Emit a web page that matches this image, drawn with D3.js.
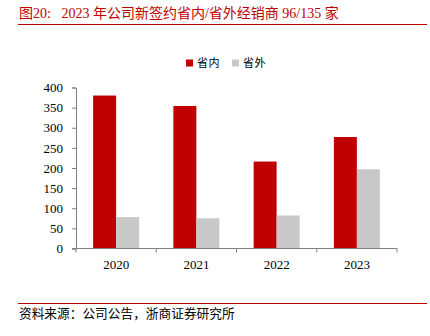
<!DOCTYPE html>
<html>
<head>
<meta charset="utf-8">
<script src="https://cdn.jsdelivr.net/npm/d3@7/dist/d3.min.js"></script>
<style>
  html, body { margin: 0; padding: 0; background: #fff; }
  svg { display: block; }
</style>
</head>
<body>
<svg id="chart" width="430" height="336"></svg>
<script>
// Newly signed distributors per year, in-province vs out-of-province
const years = ["2020", "2021", "2022", "2023"];
const inProvince = [380, 354, 216, 277];
const outProvince = [78, 75, 82, 197];
const seriesNames = ["省内", "省外"];
const yTicks = [0, 50, 100, 150, 200, 250, 300, 350, 400];

const titleText = "图20:\u00a0\u00a0\u00a02023 年公司新签约省内/省外经销商 96/135 家";
const sourceText = "资料来源：公司公告，浙商证券研究所";

const colors = ["#c00000", "#c8c8c8"];
const serif = "'Liberation Serif', 'Noto Sans CJK SC', serif";
const cjk = "'Noto Sans CJK SC', 'Liberation Serif', sans-serif";
const axisColor = "#808080";

const svg = d3.select("#chart");

// Header
svg.append("text")
  .attr("x", 19).attr("y", 18)
  .attr("fill", "#c00000")
  .style("font-family", serif)
  .style("font-size", "14px")
  .text(titleText);
svg.append("line")
  .attr("x1", 18).attr("x2", 427).attr("y1", 24.5).attr("y2", 24.5)
  .attr("stroke", "#c00000").attr("stroke-width", 1);

// Scales
const x = d3.scaleBand().domain(years).range([76, 397]).paddingInner(0).paddingOuter(0);
const y = d3.scaleLinear().domain([0, 400]).range([248.5, 87.5]);
const barW = 23;

// Bars
const groups = svg.append("g").selectAll("g")
  .data(years)
  .join("g");

groups.append("rect")
  .attr("x", d => x(d) + x.bandwidth() / 2 - barW)
  .attr("y", (d, i) => y(inProvince[i]))
  .attr("width", barW)
  .attr("height", (d, i) => y(0) - y(inProvince[i]))
  .attr("fill", colors[0]);

groups.append("rect")
  .attr("x", d => x(d) + x.bandwidth() / 2)
  .attr("y", (d, i) => y(outProvince[i]))
  .attr("width", barW)
  .attr("height", (d, i) => y(0) - y(outProvince[i]))
  .attr("fill", colors[1]);

// Y axis
const yAxis = svg.append("g")
  .attr("transform", "translate(76,0)")
  .call(d3.axisLeft(y).tickValues(yTicks).tickSize(4).tickPadding(9));
yAxis.select(".domain").attr("stroke", axisColor);
yAxis.selectAll(".tick line").attr("stroke", axisColor);
yAxis.selectAll(".tick text")
  .attr("fill", "#000")
  .style("font-family", serif)
  .style("font-size", "13px");

// X axis: category separators with labels centred
const xAxis = svg.append("g").attr("transform", `translate(0,${y(0)})`);
xAxis.append("line")
  .attr("x1", 72).attr("x2", 397)
  .attr("stroke", axisColor);
const sepPositions = years.map(d => x(d)).concat([x.range()[1]]);
xAxis.selectAll(".sep")
  .data(sepPositions)
  .join("line")
  .attr("class", "sep")
  .attr("x1", d => d).attr("x2", d => d)
  .attr("y1", 0).attr("y2", 4)
  .attr("stroke", axisColor);
xAxis.selectAll(".lbl")
  .data(years)
  .join("text")
  .attr("class", "lbl")
  .attr("x", d => x(d) + x.bandwidth() / 2)
  .attr("y", 20)
  .attr("text-anchor", "middle")
  .attr("fill", "#000")
  .style("font-family", serif)
  .style("font-size", "13px")
  .text(d => d);

// Legend
const legend = svg.append("g");
const legendItems = [{ x: 186, i: 0 }, { x: 232, i: 1 }];
legendItems.forEach(({ x: lx, i }) => {
  legend.append("rect")
    .attr("x", lx).attr("y", 59.5)
    .attr("width", 7).attr("height", 7)
    .attr("fill", colors[i]);
  legend.append("text")
    .attr("x", lx + 11).attr("y", 67)
    .attr("fill", "#000")
    .style("font-family", cjk)
    .style("font-size", "11px")
    .style("letter-spacing", "0.5px")
    .text(seriesNames[i]);
});

// Footer
svg.append("line")
  .attr("x1", 18).attr("x2", 427).attr("y1", 303.5).attr("y2", 303.5)
  .attr("stroke", "#c00000").attr("stroke-width", 1);
svg.append("text")
  .attr("x", 19).attr("y", 318)
  .attr("fill", "#000")
  .style("font-family", cjk)
  .style("font-size", "12.7px")
  .text(sourceText);
</script>
</body>
</html>
